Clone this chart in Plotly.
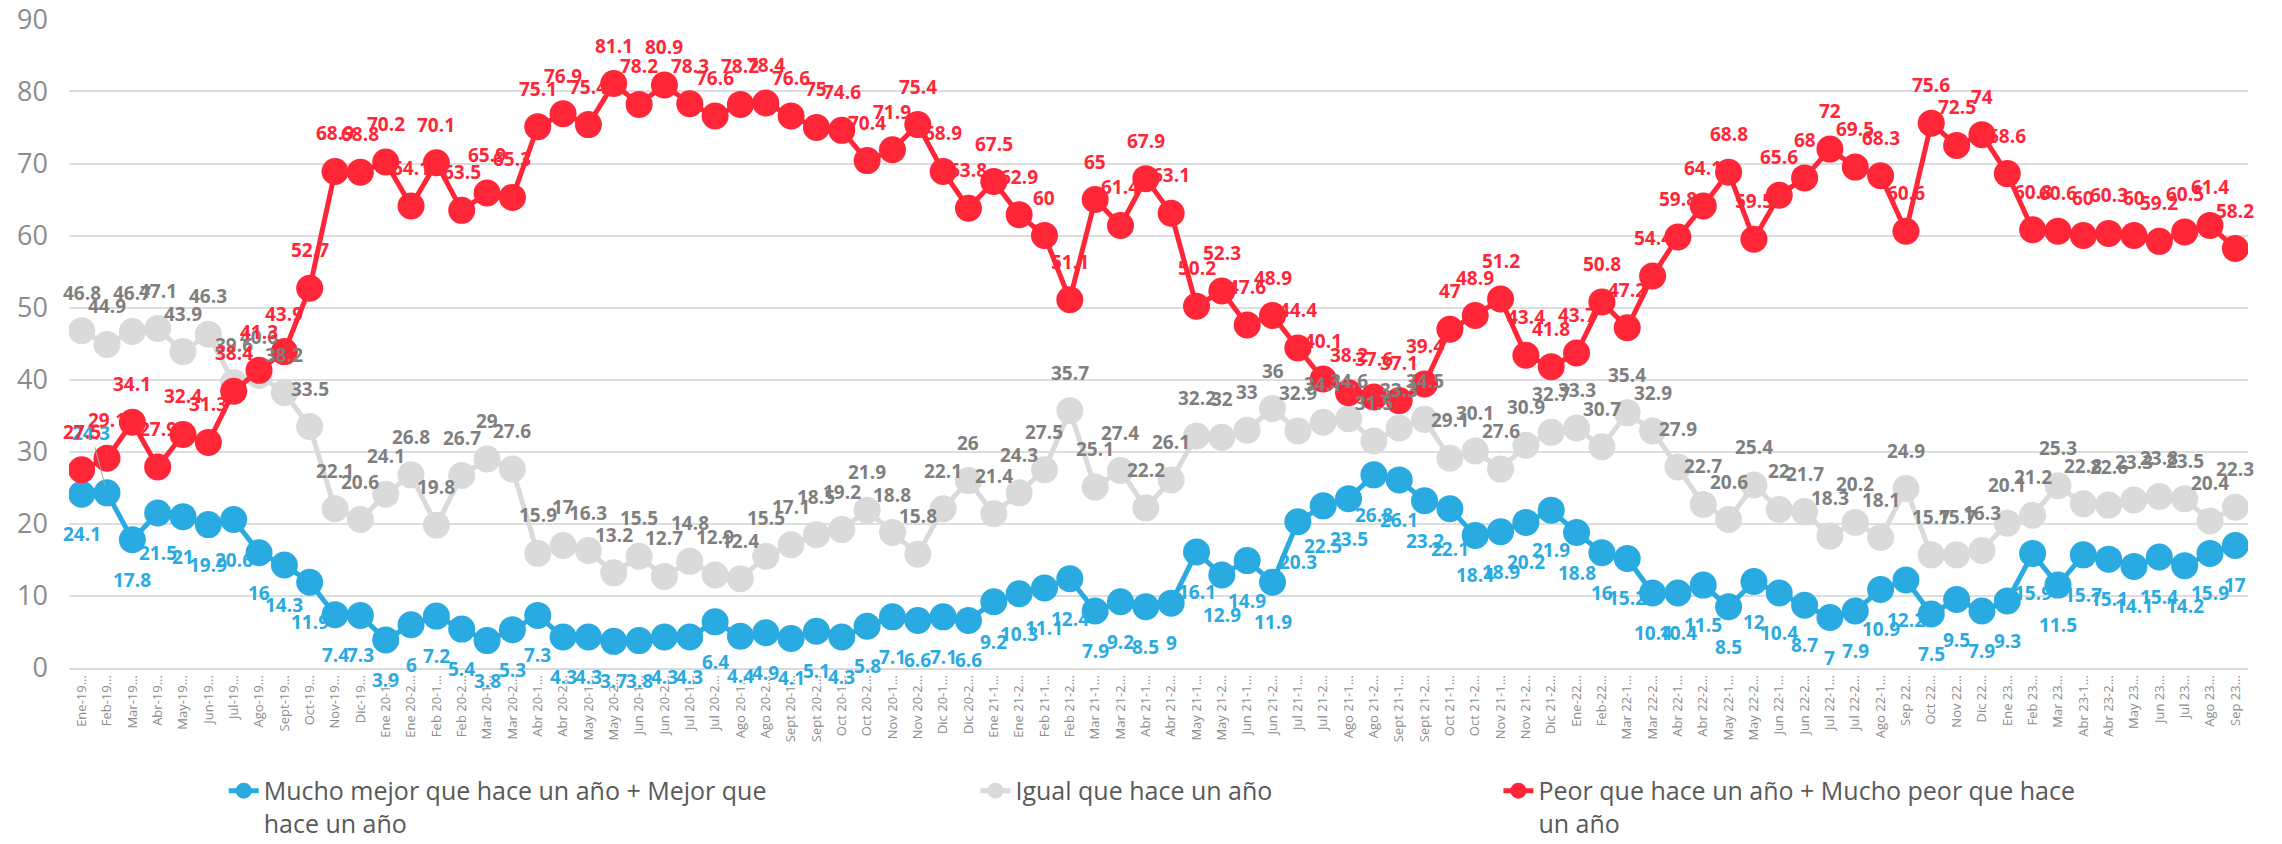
import plotly.graph_objects as go

categories = [
    "Ene-19…", "Feb-19…", "Mar-19…", "Abr-19…", "May-19…", "Jun-19…", "Jul-19…", "Ago-19…",
    "Sept-19…", "Oct-19…", "Nov-19…", "Dic-19…",
    "Ene 20-1…", "Ene 20-2…", "Feb 20-1…", "Feb 20-2…", "Mar 20-1…", "Mar 20-2…",
    "Abr 20-1…", "Abr 20-2…", "May 20-1…", "May 20-2…", "Jun 20-1…", "Jun 20-2…",
    "Jul 20-1…", "Jul 20-2…", "Ago 20-1…", "Ago 20-2…", "Sept 20-1…", "Sept 20-2…",
    "Oct 20-1…", "Oct 20-2…", "Nov 20-1…", "Nov 20-2…", "Dic 20-1…", "Dic 20-2…",
    "Ene 21-1…", "Ene 21-2…", "Feb 21-1…", "Feb 21-2…", "Mar 21-1…", "Mar 21-2…",
    "Abr 21-1…", "Abr 21-2…", "May 21-1…", "May 21-2…", "Jun 21-1…", "Jun 21-2…",
    "Jul 21-1…", "Jul 21-2…", "Ago 21-1…", "Ago 21-2…", "Sept 21-1…", "Sept 21-2…",
    "Oct 21-1…", "Oct 21-2…", "Nov 21-1…", "Nov 21-2…", "Dic 21-2…",
    "Ene-22…", "Feb-22…", "Mar 22-1…", "Mar 22-2…", "Abr 22-1…", "Abr 22-2…",
    "May 22-1…", "May 22-2…", "Jun 22-1…", "Jun 22-2…", "Jul 22-1…", "Jul 22-2…",
    "Ago 22-1…", "Sep 22…", "Oct 22…", "Nov 22…", "Dic 22…",
    "Ene 23…", "Feb 23…", "Mar 23…", "Abr 23-1…", "Abr 23-2…", "May 23…", "Jun 23…",
    "Jul 23…", "Ago 23…", "Sep 23…",
]

mejor = [
    24.1, 24.3, 17.8, 21.5, 21, 19.9, 20.6, 16, 14.3, 11.9, 7.4, 7.3,
    3.9, 6, 7.2, 5.4, 3.8, 5.3, 7.3, 4.3, 4.3, 3.7, 3.8, 4.3, 4.3, 6.4, 4.4, 4.9,
    4.1, 5.1, 4.3, 5.8, 7.1, 6.6, 7.1, 6.6,
    9.2, 10.3, 11.1, 12.4, 7.9, 9.2, 8.5, 9, 16.1, 12.9, 14.9, 11.9, 20.3, 22.5,
    23.5, 26.8, 26.1, 23.2, 22.1, 18.4, 18.9, 20.2, 21.9,
    18.8, 16, 15.2, 10.4, 10.4, 11.5, 8.5, 12, 10.4, 8.7, 7, 7.9, 10.9, 12.2,
    7.5, 9.5, 7.9,
    9.3, 15.9, 11.5, 15.7, 15.1, 14.1, 15.4, 14.2, 15.9, 17,
]

igual = [
    46.8, 44.9, 46.7, 47.1, 43.9, 46.3, 39.6, 40.6, 38.2, 33.5, 22.1, 20.6,
    24.1, 26.8, 19.8, 26.7, 29, 27.6, 15.9, 17, 16.3, 13.2, 15.5, 12.7, 14.8, 12.9,
    12.4, 15.5, 17.1, 18.5, 19.2, 21.9, 18.8, 15.8, 22.1, 26,
    21.4, 24.3, 27.5, 35.7, 25.1, 27.4, 22.2, 26.1, 32.2, 32, 33, 36, 32.9, 34.1,
    34.6, 31.5, 33.3, 34.5, 29.1, 30.1, 27.6, 30.9, 32.7,
    33.3, 30.7, 35.4, 32.9, 27.9, 22.7, 20.6, 25.4, 22, 21.7, 18.3, 20.2, 18.1,
    24.9, 15.7, 15.7, 16.3,
    20.1, 21.2, 25.3, 22.8, 22.6, 23.3, 23.8, 23.5, 20.4, 22.3,
]

peor = [
    27.5, 29.1, 34.1, 27.9, 32.4, 31.3, 38.4, 41.3, 43.9, 52.7, 68.9, 68.8,
    70.2, 64.1, 70.1, 63.5, 65.9, 65.3, 75.1, 76.9, 75.4, 81.1, 78.2, 80.9, 78.3,
    76.6, 78.2, 78.4, 76.6, 75, 74.6, 70.4, 71.9, 75.4, 68.9, 63.8,
    67.5, 62.9, 60, 51.1, 65, 61.4, 67.9, 63.1, 50.2, 52.3, 47.6, 48.9, 44.4, 40.1,
    38.2, 37.6, 37.1, 39.4, 47, 48.9, 51.2, 43.4, 41.8,
    43.7, 50.8, 47.2, 54.4, 59.8, 64.1, 68.8, 59.5, 65.6, 68, 72, 69.5, 68.3,
    60.6, 75.6, 72.5, 74,
    68.6, 60.8, 60.6, 60, 60.3, 60, 59.2, 60.5, 61.4, 58.2,
]

y_ticks = [0, 10, 20, 30, 40, 50, 60, 70, 80, 90]

series = [
    ("Mucho mejor que hace un año + Mejor que<br>hace un año", mejor, "#29AAE1", "#29AAE1", -40, "legend"),
    ("Igual que hace un año", igual, "#DADADA", "#7F7F7F", 38, "legend2"),
    ("Peor que hace un año + Mucho peor que hace<br>un año", peor, "#FF2638", "#FF2638", 38, "legend3"),
]

fig = go.Figure()
annotations = []
for si, (name, vals, col, lcol, shift, leg) in enumerate(series):
    fig.add_trace(go.Scatter(
        x=categories, y=vals, name=name, mode="lines+markers",
        line=dict(color=col, width=5),
        marker=dict(color=col, size=27),
        legend=leg,
    ))
    for i, (c, v) in enumerate(zip(categories, vals)):
        font = dict(family="Open Sans", size=19, color=lcol, weight="bold")
        if si == 0 and i == 1:
            # label moved above the point with a leader line, as in the reference
            annotations.append(dict(
                x=c, y=v, xref="x", yref="y", text=f"{v:g}", showarrow=True,
                arrowhead=0, arrowwidth=1, arrowcolor="#A6A6A6", standoff=8,
                ax=-16, ay=-60, font=font,
            ))
        else:
            annotations.append(dict(
                x=c, y=v, xref="x", yref="y", text=f"{v:g}", showarrow=False,
                yshift=shift, font=font,
            ))

leg_common = dict(orientation="v", yanchor="top", valign="top", bgcolor="rgba(0,0,0,0)",
                  font=dict(family="Open Sans", size=25, color="#595959"))

fig.update_layout(
    width=2274, height=836,
    margin=dict(l=61, r=34, t=11, b=176, autoexpand=False),
    paper_bgcolor="white", plot_bgcolor="white",
    annotations=annotations,
    showlegend=True,
    legend=dict(x=0.071, y=-0.154, **leg_common),
    legend2=dict(x=0.416, y=-0.154, **leg_common),
    legend3=dict(x=0.656, y=-0.154, **leg_common),
    xaxis=dict(
        type="category", categoryorder="array", categoryarray=categories,
        range=[-0.5, len(categories) - 0.5],
        tickangle=-90, tickfont=dict(family="Open Sans", size=13, color="#8C8C8C"),
        showgrid=False, showline=True, linecolor="#D9D9D9", linewidth=2,
        ticks="", zeroline=False,
    ),
    yaxis=dict(
        range=[0, 90.05], tickmode="array", tickvals=y_ticks,
        ticktext=[str(t) for t in y_ticks],
        showgrid=True, gridcolor="#DEDEDE", gridwidth=2,
        zeroline=False, showline=False, ticks="",
        tickfont=dict(family="Open Sans", size=27, color="#8C8C8C"),
        ticklabelstandoff=20, ticklabeloverflow="allow",
    ),
)

fig.write_html("out.html")
